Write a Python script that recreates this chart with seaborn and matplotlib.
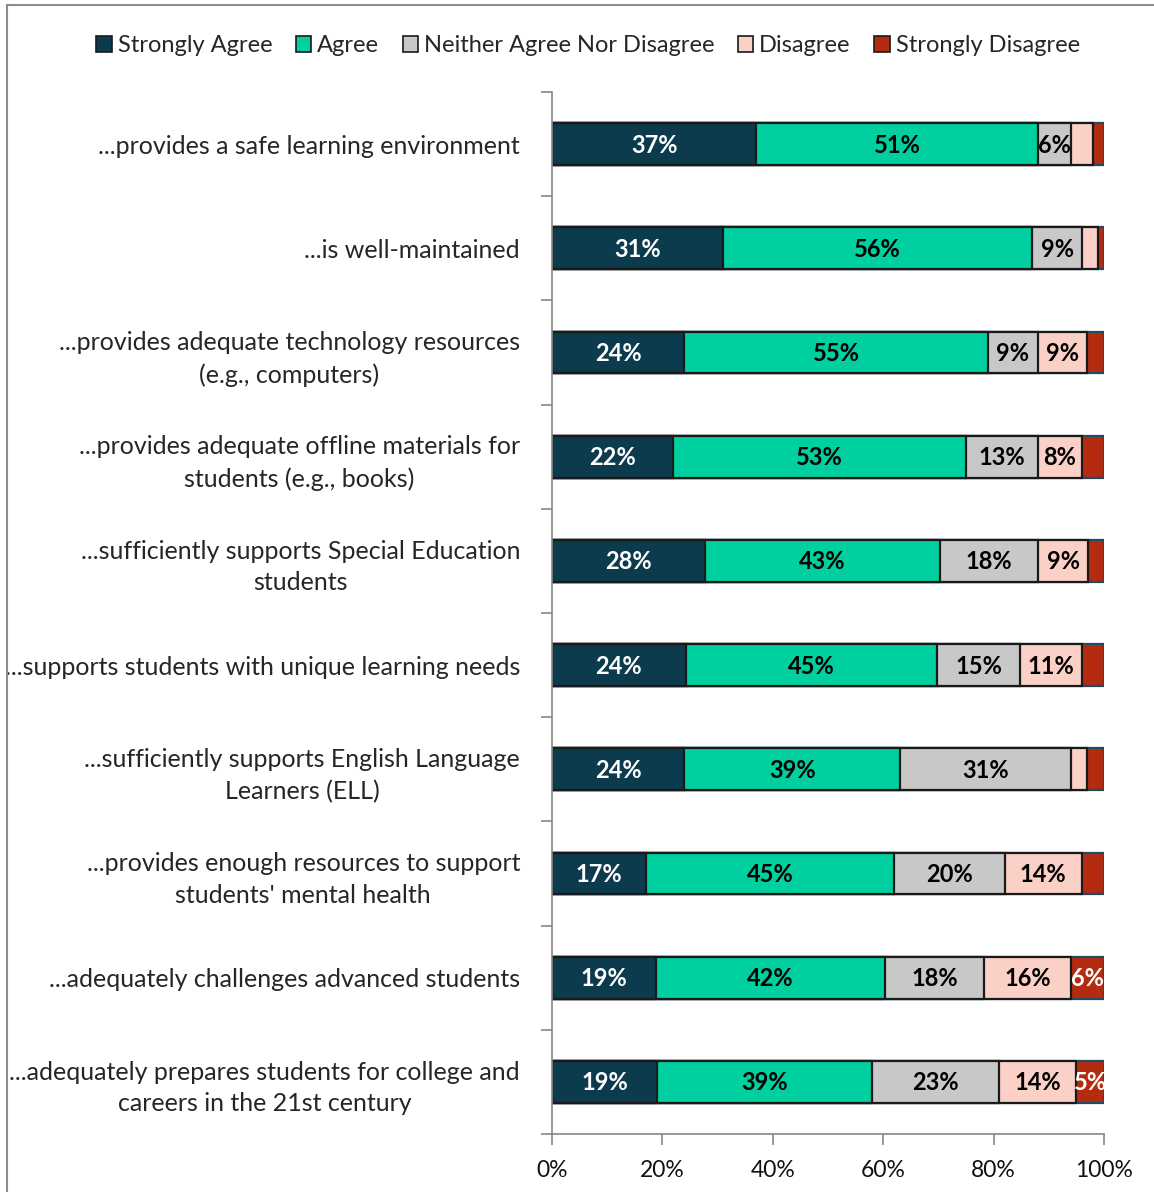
import numpy as np
import pandas as pd
import matplotlib
matplotlib.use("Agg")
import matplotlib.pyplot as plt
from matplotlib.patches import Rectangle, Patch
from matplotlib.ticker import FixedLocator
import seaborn as sns

# Survey statements (rows, top to bottom)
statements = [
    "...provides a safe learning environment",
    "...is well-maintained",
    "...provides adequate technology resources\n(e.g., computers)",
    "...provides adequate offline materials for\nstudents (e.g., books)",
    "...sufficiently supports Special Education\nstudents",
    "...supports students with unique learning needs",
    "...sufficiently supports English Language\nLearners (ELL)",
    "...provides enough resources to support\nstudents' mental health",
    "...adequately challenges advanced students",
    "...adequately prepares students for college and\ncareers in the 21st century",
]

responses = ["Strongly Agree", "Agree", "Neither Agree Nor Disagree",
             "Disagree", "Strongly Disagree"]

# Percentages
strongly_agree = [37, 31, 24, 22, 28, 24, 24, 17, 19, 19]
agree = [51, 56, 55, 53, 43, 45, 39, 45, 42, 39]
neither = [6, 9, 9, 13, 18, 15, 31, 20, 18, 23]
disagree = [4, 3, 9, 8, 9, 11, 3, 14, 16, 14]
strongly_disagree = [2, 1, 3, 4, 3, 4, 3, 4, 6, 5]

colors = ["#0c3b4e", "#00cfa0", "#c8c8c8", "#fbd0c6", "#b52b10"]
edge_colors = ["#1a1a1a", "#1a1a1a", "#1a1a1a", "#1a1a1a", "#1f4e63"]
text_colors = ["white", "black", "black", "black", "white"]

FONT = ["Lato", "DejaVu Sans"]


def build_frame():
    vals = np.array([strongly_agree, agree, neither, disagree, strongly_disagree],
                    dtype=float)
    # 100% stacked like the original: normalise every row
    pct = vals / vals.sum(axis=0) * 100
    cum = np.cumsum(pct, axis=0)
    rows = []
    for i, resp in enumerate(responses):
        for j, st in enumerate(statements):
            rows.append({"statement": st, "response": resp,
                         "value": vals[i, j], "pct": pct[i, j],
                         "cum": cum[i, j]})
    return pd.DataFrame(rows)


def main():
    sns.set_theme(style="white")
    plt.rcParams["font.family"] = FONT

    df = build_frame()

    fig = plt.figure(figsize=(11.54, 11.92), dpi=100)
    ax = fig.add_axes([552 / 1154, 1 - 1134 / 1192, 552 / 1154, 1042 / 1192])

    # draw cumulative bars from the widest down so they stack visually
    for i in reversed(range(len(responses))):
        sub = df[df["response"] == responses[i]]
        sns.barplot(data=sub, x="cum", y="statement", order=statements,
                    color=colors[i], edgecolor=edge_colors[i], linewidth=1.6,
                    width=0.4, saturation=1, ax=ax, orient="h")

    # segment labels
    for _, r in df.iterrows():
        if r["value"] < 5:
            continue
        i = responses.index(r["response"])
        j = statements.index(r["statement"])
        ax.text(r["cum"] - r["pct"] / 2, j + 0.01, f"{r['value']:.0f}%",
                ha="center", va="center", fontsize=17, fontweight="bold",
                color=text_colors[i])

    ax.set_xlim(0, 100)
    ax.set_ylim(len(statements) - 0.5, -0.5)
    ax.set_xlabel("")
    ax.set_ylabel("")
    ax.set_xticks(np.arange(0, 101, 20))
    ax.set_xticklabels([f"{t}%" for t in range(0, 101, 20)], fontsize=16.5)
    ax.set_yticks(range(len(statements)))
    ax.set_yticklabels(statements, fontsize=18, linespacing=1.45,
                       ha="right", multialignment="center")
    ax.tick_params(axis="y", which="major", length=0, pad=23)
    ax.yaxis.set_minor_locator(FixedLocator(np.arange(-0.5, len(statements), 1)))
    ax.tick_params(axis="y", which="minor", left=True, length=8,
                   color="#888888", width=1.2)
    ax.tick_params(axis="x", bottom=True, length=8, color="#888888",
                   width=1.2, pad=11, labelcolor="#111111")

    for side in ["top", "right"]:
        ax.spines[side].set_visible(False)
    for side in ["left", "bottom"]:
        ax.spines[side].set_color("#888888")
        ax.spines[side].set_linewidth(1.2)

    # legend on top
    handles = [Patch(facecolor=c, edgecolor="#1a1a1a", linewidth=1.2)
               for c in colors]
    fig.legend(handles, responses, loc="center", ncol=5,
               bbox_to_anchor=(588 / 1154, 1 - 46 / 1192), frameon=False,
               fontsize=17, handlelength=0.65, handleheight=0.65,
               handletextpad=0.25, columnspacing=1.0)

    # chart border (cut off at the right and bottom in the original)
    fig.patches.append(Rectangle((7 / 1154, -0.1), 1.2, 1.1 - 5 / 1192,
                                 transform=fig.transFigure, fill=False,
                                 edgecolor="#8c8c8c", linewidth=1.5))

    fig.savefig("out.png", dpi=100)


if __name__ == "__main__":
    main()
